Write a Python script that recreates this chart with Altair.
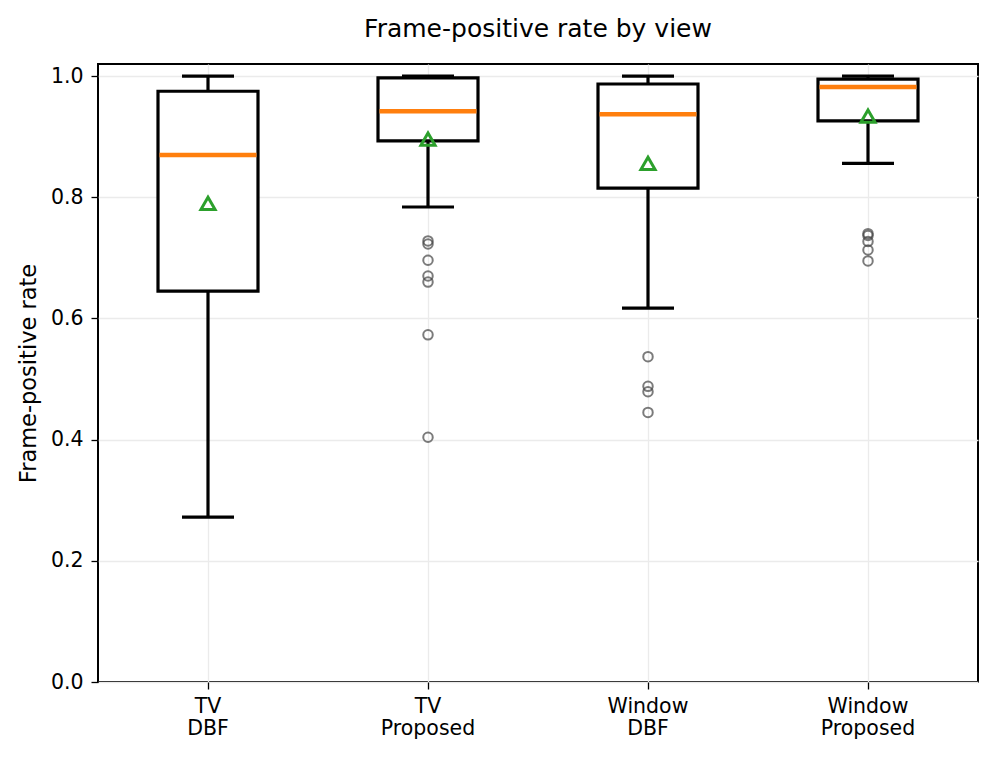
import altair as alt
import pandas as pd

categories = ["TV DBF", "TV Proposed", "Window DBF", "Window Proposed"]
whisker_low = [0.272, 0.784, 0.617, 0.856]
q1 = [0.645, 0.893, 0.815, 0.926]
median = [0.870, 0.942, 0.937, 0.982]
q3 = [0.975, 0.997, 0.987, 0.995]
whisker_high = [1.0, 1.0, 1.0, 1.0]
mean = [0.790, 0.896, 0.856, 0.934]

outlier_cat = (["TV Proposed"] * 7 + ["Window DBF"] * 4 + ["Window Proposed"] * 5)
outlier_val = [0.728, 0.723, 0.696, 0.670, 0.660, 0.573, 0.404,
               0.537, 0.488, 0.479, 0.445,
               0.740, 0.737, 0.727, 0.713, 0.695]

stats = pd.DataFrame({
    "view": categories, "lo": whisker_low, "q1": q1, "med": median,
    "q3": q3, "hi": whisker_high, "mean": mean,
})
outliers = pd.DataFrame({"view": outlier_cat, "v": outlier_val})

FONT = "DejaVu Sans"
xenc = alt.X("view:N", sort=categories,
             scale=alt.Scale(paddingInner=0, paddingOuter=0),
             axis=alt.Axis(title=None, labelExpr="split(datum.label, ' ')",
                           labelAngle=0, labelFontSize=20.5, labelColor="black",
                           labelFont=FONT, tickColor="black", tickSize=7, tickWidth=1.3,
                           labelPadding=7, domain=False,
                           grid=True, gridColor="#ebebeb", gridWidth=1.3,
                           labelLineHeight=22))
yscale = alt.Scale(domain=[0, 1.02], nice=False, zero=True)
yaxis = alt.Axis(title="Frame-positive rate", values=[0, 0.2, 0.4, 0.6, 0.8, 1.0],
                 format=".1f", labelFontSize=20.5, labelColor="black", labelFont=FONT,
                 titleFont=FONT, titleFontSize=22.5, titleFontWeight="normal",
                 titleColor="black", titlePadding=10, tickColor="black", tickSize=7,
                 tickWidth=1.3, labelPadding=8,
                 domain=False, grid=True, gridColor="#ebebeb", gridWidth=1.3)

base = alt.Chart(stats)

whisk = base.mark_rule(color="black", strokeWidth=3.2).encode(
    x=xenc, y=alt.Y("lo:Q", scale=yscale, axis=yaxis), y2="hi:Q")
box = base.mark_bar(fill="white", stroke="black", strokeWidth=3.2, size=100).encode(
    x=xenc, y=alt.Y("q1:Q", scale=yscale), y2="q3:Q")
cap_lo = base.mark_tick(color="black", thickness=3.2, size=52, opacity=1).encode(
    x=xenc, y=alt.Y("lo:Q", scale=yscale))
cap_hi = base.mark_tick(color="black", thickness=3.2, size=52, opacity=1).encode(
    x=xenc, y=alt.Y("hi:Q", scale=yscale))
med = base.mark_tick(color="#ff7f0e", thickness=4.5, size=97, opacity=1).encode(
    x=xenc, y=alt.Y("med:Q", scale=yscale))
mn = base.mark_point(shape="triangle-up", filled=False, color="#2ca02c",
                     strokeWidth=3, size=200, opacity=1).encode(
    x=xenc, y=alt.Y("mean:Q", scale=yscale))
outl = alt.Chart(outliers).mark_point(shape="circle", filled=False, color="#444444",
                                      strokeWidth=2, size=90, opacity=0.7).encode(
    x=xenc, y=alt.Y("v:Q", scale=yscale))

chart = alt.layer(whisk, box, cap_lo, cap_hi, med, outl, mn).properties(
    width=880, height=618,
    title=alt.TitleParams("Frame-positive rate by view", fontSize=25, font=FONT,
                          fontWeight="normal", color="black", offset=22),
    autosize=alt.AutoSizeParams(type="none"),
    padding={"left": 90, "top": 56, "right": 10, "bottom": 60},
).configure(background="white").configure_view(stroke="black", strokeWidth=2)

chart.save("out.html", embed_options={"renderer": "svg", "actions": False})
